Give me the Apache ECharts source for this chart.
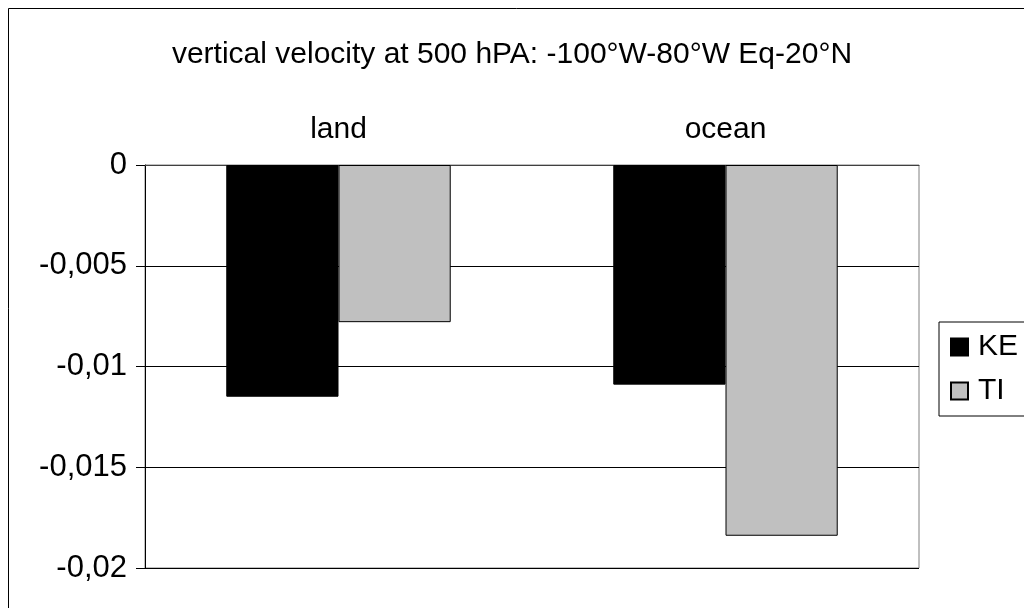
<!DOCTYPE html>
<html>
<head>
<meta charset="utf-8">
<script src="https://cdn.jsdelivr.net/npm/echarts@6/dist/echarts.min.js"></script>
<style>
  html, body { margin: 0; padding: 0; background: #fff; }
  #chart { width: 1024px; height: 608px; }
</style>
</head>
<body>
<div id="chart"></div>
<script>
// data
var categories = ["land", "ocean"];
var keValues = [-0.0115, -0.0109];
var tiValues = [-0.0078, -0.0184];
var yTicks = { min: -0.02, max: 0, step: 0.005 };

var font = "Liberation Sans, Arial, sans-serif";

var myChart = echarts.init(document.getElementById("chart"));
myChart.setOption({
  animation: false,
  backgroundColor: "#fff",
  textStyle: { fontFamily: font },
  title: {
    text: "vertical velocity at 500 hPA: -100°W-80°W Eq-20°N",
    left: "center",
    top: 34,
    textStyle: { fontFamily: font, fontSize: 30, fontWeight: "normal", color: "#000", lineHeight: 32 }
  },
  graphic: [{
    type: "rect",
    shape: { x: 8.5, y: 8.5, width: 1040, height: 640 },
    style: { fill: "none", stroke: "#000", lineWidth: 1 },
    silent: true
  }],
  legend: {
    orient: "vertical",
    left: 939,
    top: 322,
    padding: [10, 10, 10, 11],
    itemGap: 14,
    itemWidth: 17,
    itemHeight: 17,
    borderColor: "#000",
    borderWidth: 1,
    icon: "rect",
    textStyle: { fontFamily: font, fontSize: 30, color: "#000", padding: [0, 0, 0, 5] },
    data: ["KE", "TI"]
  },
  grid: {
    left: 145,
    top: 165,
    width: 774,
    height: 403,
    show: true,
    borderColor: "#808080",
    borderWidth: 1,
    containLabel: false
  },
  xAxis: {
    type: "category",
    position: "top",
    data: categories,
    axisLine: { lineStyle: { color: "#404040", width: 1 } },
    axisTick: { inside: true, length: 9, lineStyle: { color: "#404040" } },
    axisLabel: { fontFamily: font, fontSize: 30, color: "#000", margin: 20 },
    splitLine: { show: false }
  },
  yAxis: {
    type: "value",
    min: yTicks.min,
    max: yTicks.max,
    interval: yTicks.step,
    axisLine: { show: true, lineStyle: { color: "#000", width: 1 } },
    axisTick: { show: true, length: 9, lineStyle: { color: "#000" } },
    axisLabel: {
      fontFamily: font,
      fontSize: 31,
      color: "#000",
      margin: 18,
      formatter: function (v) {
        if (Math.abs(v) < 1e-12) return "0";
        return String(+v.toFixed(3)).replace(".", ",");
      }
    },
    splitLine: { show: true, lineStyle: { color: "#000", width: 1 } }
  },
  series: [
    {
      name: "KE",
      type: "bar",
      data: keValues,
      barGap: "0%",
      barCategoryGap: "42%",
      itemStyle: { color: "#000", borderColor: "#000", borderWidth: 1 }
    },
    {
      name: "TI",
      type: "bar",
      data: tiValues,
      itemStyle: { color: "#c0c0c0", borderColor: "#000", borderWidth: 1 }
    }
  ]
});
window.addEventListener("resize", function () {
  myChart.resize();
});
</script>
</body>
</html>
